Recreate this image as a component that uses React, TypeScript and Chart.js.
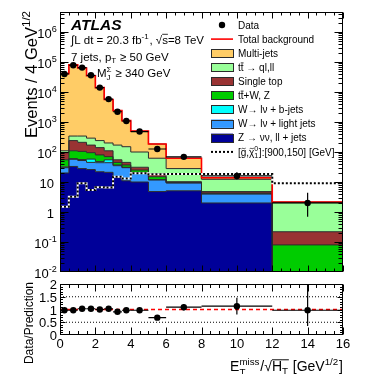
import React, { useEffect, useRef } from 'react';
import { Chart, registerables } from 'chart.js';

Chart.register(...registerables);

const FONT = '"Liberation Sans", Arial, Helvetica, sans-serif';

// ---------------- data ----------------
const binEdges = [0, 0.5, 1, 1.5, 2, 2.5, 3, 3.5, 4, 5, 6, 8, 12, 16];

// background components per bin (bottom of the stack first)
const zJets = [20, 33, 28, 26, 22, 21, 14, 11, 10, 4.8, 5.1, 2.0, 0.00001];
const wLightJets = [10, 24, 24, 19, 22, 23, 21, 19, 10, 6.9, 4.2, 2.0, 0.00001];
const wBJets = [2, 3, 4, 13, 4, 11, 2, 1, 1, 0.3, 0.1, 0.05, 0.00001];
const ttbarV = [23, 50, 49, 37, 32, 15, 8, 6, 4, 3, 0.4, 0.25, 0.08];
const singleTop = [40, 130, 105, 75, 60, 40, 10, 8, 6, 4, 0.4, 0.5, 0.14];
const ttbarQlLl = [15, 100, 130, 120, 100, 90, 115, 105, 69, 43, 17.8, 7.5, 1.83];
const multiJets = [40890, 79660, 62660, 34710, 13760, 5400, 2230, 960, 395, 123, 34, 1.5, 0.1];

const dataCounts = [40000, 78000, 65000, 36000, 14000, 5800, 2200, 1080, 480, 126, 69, 16, 2];
const dataErrUp = [200, 280, 255, 190, 118, 76, 47, 33, 22, 11, 8.3, 5, 2.4];
const dataErrDown = [200, 280, 255, 190, 118, 76, 47, 33, 22, 11, 8.3, 4, 1.3];

const signalModel = [1.5, 3.2, 9.1, 5.4, 6.7, 6.5, 15, 13, 19.5, 18, 18.5, 18.5, 9.1];

const ratioValues = [0.97, 0.97, 1.03, 1.03, 1.0, 1.03, 0.91, 0.97, 0.97, 0.68, 1.09, 1.13, 0.97];
const ratioErrUp = [0.01, 0.01, 0.01, 0.01, 0.01, 0.02, 0.03, 0.03, 0.05, 0.07, 0.13, 0.33, 0.99];
const ratioErrDown = [0.01, 0.01, 0.01, 0.01, 0.01, 0.02, 0.03, 0.03, 0.05, 0.07, 0.13, 0.33, 0.62];
const ratioGuides = [0.5, 1.5];

const xTickValues = [0, 2, 4, 6, 8, 10, 12, 14, 16];
const yDecades = [-2, -1, 0, 1, 2, 3, 4, 5, 6];
const ratioTickValues = [0, 0.5, 1, 1.5, 2];
const ratioTickLabels = ['0', '0.5', '1', '1.5', '2'];

const Y_MIN = 0.01;
const Y_MAX = Math.pow(10, 6 + 2 / 3);

type Seg = { t: string; k?: 'sup' | 'sub' | 'supsub'; t2?: string; bar?: boolean; tilde?: boolean };

const stackComponents: { name: string; values: number[]; color: string; legend: Seg[] }[] = [
  { name: 'Z', values: zJets, color: '#000099', legend: [{ t: 'Z → νν, ll + jets' }] },
  { name: 'Wl', values: wLightJets, color: '#3399ff', legend: [{ t: 'W→ lν + light jets' }] },
  { name: 'Wb', values: wBJets, color: '#00ffff', legend: [{ t: 'W→ lν + b-jets' }] },
  { name: 'ttV', values: ttbarV, color: '#00cc00', legend: [{ t: 't' }, { t: 't', bar: true }, { t: '+W, Z' }] },
  { name: 'st', values: singleTop, color: '#993333', legend: [{ t: 'Single top' }] },
  { name: 'tt', values: ttbarQlLl, color: '#99ff99', legend: [{ t: 't' }, { t: 't', bar: true }, { t: ' → ql,ll' }] },
  { name: 'mj', values: multiJets, color: '#ffcc66', legend: [{ t: 'Multi-jets' }] },
];

const cumulative: number[][] = [];
stackComponents.forEach((c, i) => {
  cumulative.push(c.values.map((v, j) => v + (i ? cumulative[i - 1][j] : 0)));
});
const totalBackground = cumulative[cumulative.length - 1];
const binCenters = binEdges.slice(0, -1).map((e, i) => (e + binEdges[i + 1]) / 2);

function stepPoints(vals: number[]) {
  const pts = vals.map((v, i) => ({ x: binEdges[i], y: v }));
  pts.push({ x: binEdges[binEdges.length - 1], y: vals[vals.length - 1] });
  return pts;
}

// ---------------- text helpers ----------------
function drawRich(ctx: CanvasRenderingContext2D, segs: Seg[], x: number, y: number, size: number,
  align: 'left' | 'right' | 'center', style = '') {
  const f = (s: number) => `${style ? style + ' ' : ''}${s}px ${FONT}`;
  const small = size * 0.7;
  const widths = segs.map((s) => {
    if (!s.k) { ctx.font = f(size); return ctx.measureText(s.t).width; }
    ctx.font = f(small);
    const w1 = ctx.measureText(s.t).width;
    const w2 = s.t2 ? ctx.measureText(s.t2).width : 0;
    return Math.max(w1, w2) + size * 0.06;
  });
  const total = widths.reduce((a, b) => a + b, 0);
  let cx = align === 'left' ? x : align === 'right' ? x - total : x - total / 2;
  ctx.textAlign = 'left';
  ctx.textBaseline = 'alphabetic';
  segs.forEach((s, i) => {
    const w = widths[i];
    if (!s.k) { ctx.font = f(size); ctx.fillText(s.t, cx, y); }
    else {
      ctx.font = f(small);
      if (s.k === 'sup') ctx.fillText(s.t, cx, y - size * 0.42);
      else if (s.k === 'sub') ctx.fillText(s.t, cx, y + size * 0.2);
      else { ctx.fillText(s.t, cx, y - size * 0.42); ctx.fillText(s.t2 || '', cx, y + size * 0.25); }
    }
    if (s.bar) {
      ctx.save();
      ctx.lineWidth = Math.max(0.8, size * 0.07);
      ctx.strokeStyle = ctx.fillStyle as string;
      ctx.beginPath();
      ctx.moveTo(cx, y - size * 0.8);
      ctx.lineTo(cx + w, y - size * 0.8);
      ctx.stroke();
      ctx.restore();
    }
    if (s.tilde) {
      ctx.save();
      ctx.lineWidth = Math.max(0.7, size * 0.07);
      ctx.strokeStyle = ctx.fillStyle as string;
      const tw = size * 0.42, tx = cx + (w - tw) / 2, ty = y - size * 0.7, amp = size * 0.07;
      ctx.beginPath();
      ctx.moveTo(tx, ty + amp * 0.5);
      ctx.bezierCurveTo(tx + tw * 0.3, ty - amp * 1.6, tx + tw * 0.7, ty + amp * 1.6, tx + tw, ty - amp * 0.5);
      ctx.stroke();
      ctx.restore();
    }
    cx += w;
  });
  return total;
}

function drawFrameAndTicks(chart: any, xMinor: number, xMajor: number, xLenMaj: number, xLenMin: number,
  yTicks: { v: number; major: boolean }[], yLenMaj: number, yLenMin: number) {
  const { ctx, chartArea: a, scales: { x, y } } = chart;
  ctx.save();
  ctx.strokeStyle = '#000';
  ctx.lineWidth = 1;
  const L = Math.round(a.left) + 0.5, R = Math.round(a.right) - 0.5;
  const T = Math.round(a.top) + 0.5, B = Math.round(a.bottom) - 0.5;
  ctx.strokeRect(L, T, R - L, B - T);
  ctx.beginPath();
  for (let v = 0; v <= 16 + 1e-9; v += xMinor) {
    const px = Math.round(x.getPixelForValue(v)) + 0.5;
    const isMaj = Math.abs(v / xMajor - Math.round(v / xMajor)) < 1e-6;
    const len = isMaj ? xLenMaj : xLenMin;
    ctx.moveTo(px, B); ctx.lineTo(px, B - len);
    ctx.moveTo(px, T); ctx.lineTo(px, T + len);
  }
  yTicks.forEach((t) => {
    const py = Math.round(y.getPixelForValue(t.v)) + 0.5;
    if (py < T - 0.1 || py > B + 0.1) return;
    const len = t.major ? yLenMaj : yLenMin;
    ctx.moveTo(L, py); ctx.lineTo(L + len, py);
    ctx.moveTo(R, py); ctx.lineTo(R - len, py);
  });
  ctx.stroke();
  ctx.restore();
}

const logTicks: { v: number; major: boolean }[] = [];
yDecades.forEach((d) => {
  for (let m = 1; m <= 9; m++) {
    const v = m * Math.pow(10, d);
    if (v <= Y_MAX) logTicks.push({ v, major: m === 1 });
  }
});
const ratioMinorTicks: { v: number; major: boolean }[] = [];
for (let k = 0; k <= 20; k++) ratioMinorTicks.push({ v: k / 10, major: k % 5 === 0 });

// ---------------- plugins ----------------
const errorBarPlugin = {
  id: 'errorBars',
  afterDatasetsDraw(chart: any) {
    const { ctx, chartArea: a, scales } = chart;
    const xs = scales.x, ys = scales.y;
    ctx.save();
    ctx.beginPath();
    ctx.rect(a.left, a.top, a.right - a.left, a.bottom - a.top);
    ctx.clip();
    ctx.strokeStyle = '#000';
    ctx.lineWidth = 1.2;
    chart.data.datasets.forEach((ds: any) => {
      if (!ds.errUp) return;
      ds.data.forEach((p: any, i: number) => {
        const px = xs.getPixelForValue(p.x), py = ys.getPixelForValue(p.y);
        ctx.beginPath();
        ctx.moveTo(xs.getPixelForValue(ds.xLo[i]), py);
        ctx.lineTo(xs.getPixelForValue(ds.xHi[i]), py);
        ctx.moveTo(px, ys.getPixelForValue(p.y + ds.errUp[i]));
        ctx.lineTo(px, ys.getPixelForValue(p.y - ds.errDown[i]));
        ctx.stroke();
      });
    });
    ctx.restore();
  },
};

const mainDecor = {
  id: 'mainDecor',
  afterDraw(chart: any) {
    const { ctx, scales: { y } } = chart;
    drawFrameAndTicks(chart, 0.5, 2, 6, 3, logTicks, 8, 4);
    ctx.save();
    ctx.fillStyle = '#000';
    yDecades.forEach((d) => {
      const py = y.getPixelForValue(Math.pow(10, d));
      const plain = d === 0 || d === 1;
      const segs: Seg[] = d === 0 ? [{ t: '1' }] : d === 1 ? [{ t: '10' }] : [{ t: '10' }, { t: String(d), k: 'sup' }];
      drawRich(ctx, segs, plain ? 54 : 57.5, py + 5.5, 13, 'right');
    });
    // y title
    ctx.save();
    ctx.translate(36.5, 10);
    ctx.rotate(-Math.PI / 2);
    drawRich(ctx, [{ t: 'Events / 4 GeV' }, { t: '1/2', k: 'sup' }], 0, 0, 16.5, 'right');
    ctx.restore();
    // ATLAS labels
    ctx.font = `italic bold 15.5px ${FONT}`;
    ctx.textAlign = 'left';
    ctx.fillText('ATLAS', 71, 30);
    drawRich(ctx, [{ t: '∫L dt = 20.3 fb' }, { t: '-1', k: 'sup' }, { t: ', √' }, { t: 's', bar: true }, { t: '=8 TeV' }], 71, 43.5, 11.5, 'left');
    drawRich(ctx, [{ t: '7 jets, p' }, { t: 'T', k: 'sub' }, { t: ' ≥ 50 GeV' }], 71, 60.5, 11.5, 'left');
    drawRich(ctx, [{ t: 'M' }, { t: 'Σ', k: 'supsub', t2: 'J' }, { t: ' ≥ 340 GeV' }], 97, 77, 11.5, 'left');
    // legend
    const rowY = (i: number) => 25 + i * 14.1;
    const bx = 211, bw = 22, tx = 238, fs = 10;
    // Data
    ctx.beginPath();
    ctx.arc(222, rowY(0), 3.2, 0, Math.PI * 2);
    ctx.fill();
    drawRich(ctx, [{ t: 'Data' }], tx, rowY(0) + 3.6, fs, 'left');
    // Total background
    ctx.save();
    ctx.strokeStyle = '#ff0000';
    ctx.lineWidth = 1.6;
    ctx.beginPath();
    ctx.moveTo(bx, rowY(1)); ctx.lineTo(bx + bw, rowY(1));
    ctx.stroke();
    ctx.restore();
    drawRich(ctx, [{ t: 'Total background' }], tx, rowY(1) + 3.6, fs, 'left');
    const comps = stackComponents.slice().reverse();
    comps.forEach((c, k) => {
      const yy = rowY(k + 2);
      ctx.save();
      ctx.fillStyle = c.color;
      ctx.fillRect(bx, yy - 4.2, bw, 8.4);
      ctx.strokeStyle = '#2b2b2b';
      ctx.lineWidth = 1;
      ctx.strokeRect(bx + 0.5, Math.round(yy - 4.2) + 0.5, bw, 8);
      ctx.restore();
      drawRich(ctx, c.legend, tx, yy + 3.6, fs, 'left');
    });
    // signal
    const sy = rowY(9);
    ctx.save();
    ctx.strokeStyle = '#000';
    ctx.lineWidth = 2;
    ctx.setLineDash([2, 2]);
    ctx.beginPath();
    ctx.moveTo(bx, sy); ctx.lineTo(bx + bw, sy);
    ctx.stroke();
    ctx.restore();
    drawRich(ctx, [{ t: '[' }, { t: 'g', tilde: true }, { t: ',' }, { t: 'χ', tilde: true }, { t: '0', k: 'supsub', t2: '1' }, { t: ']:[900,150] [GeV]' }], tx, sy + 3.6, fs, 'left');
    ctx.restore();
  },
};

const ratioDecor = {
  id: 'ratioDecor',
  afterDraw(chart: any) {
    const { ctx, scales: { x, y } } = chart;
    drawFrameAndTicks(chart, 0.5, 2, 7, 3.5, ratioMinorTicks, 5, 2.5);
    ctx.save();
    ctx.fillStyle = '#000';
    ratioTickValues.forEach((v, i) => {
      const py = y.getPixelForValue(v);
      drawRich(ctx, [{ t: ratioTickLabels[i] }], 57, py + 5, 13, 'right');
    });
    xTickValues.forEach((v) => {
      const px = x.getPixelForValue(v);
      drawRich(ctx, [{ t: String(v) }], px, 348, 13, 'center');
    });
    drawRich(ctx, [{ t: 'E' }, { t: 'miss', k: 'supsub', t2: 'T' }, { t: '/√' }, { t: 'H', bar: true }, { t: 'T', k: 'sub', bar: true },
      { t: ' [GeV' }, { t: '1/2', k: 'sup' }, { t: ']' }], 343, 371, 14, 'right');
    ctx.save();
    ctx.translate(33, 282);
    ctx.rotate(-Math.PI / 2);
    drawRich(ctx, [{ t: 'Data/Prediction' }], 0, 0, 12, 'right');
    ctx.restore();
    ctx.restore();
  },
};

// ---------------- configs ----------------
function mainConfig(): any {
  const datasets: any[] = [];
  stackComponents.forEach((c, i) => {
    datasets.push({
      label: c.name,
      data: stepPoints(cumulative[i]),
      stepped: true,
      backgroundColor: c.color,
      borderColor: '#2b2b2b',
      borderWidth: 1,
      pointRadius: 0,
      fill: i === 0 ? { value: 0.001 } : '-1',
      order: 20 - i,
    });
  });
  datasets.push({ label: 'Total background', data: stepPoints(totalBackground), stepped: true, borderColor: '#ff0000', borderWidth: 1.6, pointRadius: 0, fill: false, order: 3 });
  datasets.push({ label: 'signal-under', data: stepPoints(signalModel), stepped: true, borderColor: '#ffffff', borderWidth: 2, pointRadius: 0, fill: false, order: 2 });
  datasets.push({ label: 'signal', data: stepPoints(signalModel), stepped: true, borderColor: '#000000', borderWidth: 2, borderDash: [2, 2], pointRadius: 0, fill: false, order: 1 });
  datasets.push({
    label: 'Data',
    data: binCenters.map((xv, i) => ({ x: xv, y: dataCounts[i] })),
    showLine: false, pointRadius: 3.2, pointBackgroundColor: '#000', pointBorderColor: '#000', pointBorderWidth: 0,
    fill: false, order: 0,
    errUp: dataErrUp, errDown: dataErrDown, xLo: binEdges.slice(0, -1), xHi: binEdges.slice(1),
  });
  return {
    type: 'line',
    data: { datasets },
    options: {
      responsive: false, maintainAspectRatio: false, animation: false, devicePixelRatio: 1, events: [],
      layout: { padding: { left: 60, right: 31, top: 12, bottom: 102 } },
      plugins: { legend: { display: false }, tooltip: { enabled: false }, filler: { propagate: false, drawTime: 'beforeDatasetsDraw' } },
      scales: {
        x: { type: 'linear', min: 0, max: 16, display: false, bounds: 'data' },
        y: { type: 'logarithmic', min: Y_MIN, max: Y_MAX, display: false, bounds: 'data' },
      },
    },
    plugins: [errorBarPlugin, mainDecor],
  };
}

function ratioConfig(): any {
  const datasets: any[] = [];
  ratioGuides.forEach((g) => {
    datasets.push({ label: 'guide', data: [{ x: 0, y: g }, { x: 16, y: g }], borderColor: '#000', borderWidth: 1, borderDash: [1, 2], pointRadius: 0, fill: false, order: 3 });
  });
  datasets.push({ label: 'unity', data: [{ x: 0, y: 1 }, { x: 16, y: 1 }], borderColor: '#ff0000', borderWidth: 1.4, borderDash: [4, 3], pointRadius: 0, fill: false, order: 2 });
  datasets.push({
    label: 'Ratio',
    data: binCenters.map((xv, i) => ({ x: xv, y: ratioValues[i] })),
    showLine: false, pointRadius: 3.2, pointBackgroundColor: '#000', pointBorderColor: '#000', pointBorderWidth: 0,
    fill: false, order: 0,
    errUp: ratioErrUp, errDown: ratioErrDown, xLo: binEdges.slice(0, -1), xHi: binEdges.slice(1),
  });
  return {
    type: 'line',
    data: { datasets },
    options: {
      responsive: false, maintainAspectRatio: false, animation: false, devicePixelRatio: 1, events: [],
      layout: { padding: { left: 60, right: 31, top: 284, bottom: 39 } },
      plugins: { legend: { display: false }, tooltip: { enabled: false } },
      scales: {
        x: { type: 'linear', min: 0, max: 16, display: false, bounds: 'data' },
        y: { type: 'linear', min: 0, max: 2, display: false, bounds: 'data' },
      },
    },
    plugins: [errorBarPlugin, ratioDecor],
  };
}

export default function App() {
  const mainRef = useRef<HTMLCanvasElement>(null);
  const ratioRef = useRef<HTMLCanvasElement>(null);
  useEffect(() => {
    document.body.style.margin = '0';
    const c1 = new Chart(mainRef.current as HTMLCanvasElement, mainConfig());
    const c2 = new Chart(ratioRef.current as HTMLCanvasElement, ratioConfig());
    return () => { c1.destroy(); c2.destroy(); };
  }, []);
  return (
    <div style={{ position: 'fixed', left: 0, top: 0, width: 374, height: 374, background: '#fff' }}>
      <canvas ref={mainRef} width={374} height={374} style={{ position: 'absolute', left: 0, top: 0 }} />
      <canvas ref={ratioRef} width={374} height={374} style={{ position: 'absolute', left: 0, top: 0 }} />
    </div>
  );
}
